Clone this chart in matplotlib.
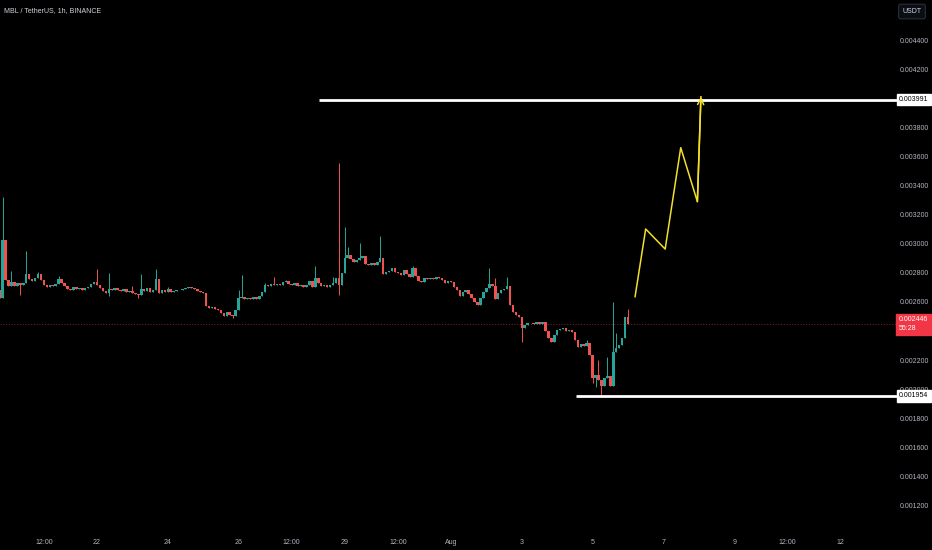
import numpy as np
import matplotlib
matplotlib.use("Agg")
import matplotlib.pyplot as plt
from matplotlib import font_manager
from matplotlib.transforms import blended_transform_factory

# ---------------- data ----------------
title = "MBL / TetherUS, 1h, BINANCE"
quote = "USDT"

# prices in 1e-6 USDT; 2-hour candles, first one at 19 Jul 06:00 (days relative to 1 Aug)
first_candle_day = -12.75
candle_hours = 2
first_open = 2682
closes = [
    2627, 3025, 2750, 2709, 2737, 2709, 2730, 2716, 2730, 2792,
    2757, 2744, 2764, 2792, 2750, 2716, 2702, 2716, 2709, 2723,
    2757, 2730, 2709, 2689, 2682, 2702, 2689, 2695, 2682, 2695,
    2702, 2723, 2737, 2716, 2695, 2675, 2661, 2689, 2682, 2695,
    2682, 2675, 2689, 2668, 2675, 2661, 2655, 2647, 2689, 2675,
    2695, 2668, 2682, 2757, 2661, 2682, 2668, 2689, 2668, 2675,
    2682, 2680, 2689, 2695, 2702, 2698, 2689, 2675, 2668, 2661,
    2572, 2558, 2562, 2551, 2544, 2524, 2503, 2531, 2510, 2503,
    2544, 2627, 2634, 2620, 2627, 2620, 2634, 2620, 2641, 2668,
    2716, 2709, 2723, 2716, 2723, 2716, 2737, 2744, 2723, 2716,
    2730, 2709, 2716, 2702, 2716, 2744, 2702, 2764, 2730, 2709,
    2716, 2702, 2716, 2730, 2764, 2716, 2799, 2902, 2922, 2895,
    2874, 2888, 2902, 2915, 2860, 2854, 2867, 2854, 2874, 2902,
    2792, 2806, 2812, 2833, 2806, 2799, 2785, 2819, 2792, 2771,
    2833, 2778, 2744, 2740, 2764, 2757, 2764, 2757, 2771, 2764,
    2750, 2730, 2744, 2737, 2702, 2682, 2641, 2668, 2682, 2654,
    2627, 2599, 2579, 2627, 2668, 2695, 2723, 2709, 2620, 2661,
    2682, 2689, 2709, 2579, 2531, 2510, 2496, 2421, 2441, 2455,
    2452, 2448, 2462, 2448, 2462, 2400, 2352, 2324, 2372, 2407,
    2414, 2421, 2400, 2407, 2393, 2338, 2290, 2311, 2297, 2318,
    2235, 2077, 2098, 2063, 2022, 2077, 2091, 2022, 2256, 2283,
    2304, 2352, 2496, 2446,
]
wick_highs = {
    1: 3321, 4: 2812, 9: 2950, 13: 2806, 20: 2778, 33: 2826, 37: 2799,
    45: 2709, 48: 2792, 53: 2826, 57: 2702, 81: 2682, 82: 2785, 90: 2730,
    93: 2771, 97: 2750, 107: 2847, 113: 2771, 115: 3555, 117: 3115,
    118: 2977, 122: 3005, 129: 3053, 140: 2847, 166: 2833, 168: 2764,
    172: 2771, 199: 2338, 203: 2201, 206: 2221, 208: 2599, 209: 2386,
    213: 2551,
}
wick_lows = {
    7: 2647, 37: 2641, 47: 2627, 79: 2489, 115: 2647, 177: 2324,
    201: 2043, 202: 2015, 204: 1950,
}

levels = [3991, 1954]
level_start_day = [-3.73, 3.53]
last_price = 2446
countdown = "55:28"

proj_day = [5.20, 5.50, 6.05, 6.49, 6.96, 7.06]
proj_price = [2636, 3101, 2963, 3660, 3289, 4010]

ytick_vals = list(range(1200, 4401, 200))
hidden_ytick_vals = [4000, 2400]   # covered by the price labels
xtick_days = [-11.5, -10, -8, -6, -4.5, -3, -1.5, 0, 2, 4, 6, 8, 9.5, 11]
xtick_labels = ["12:00", "22", "24", "26", "12:00", "29", "12:00", "Aug",
                "3", "5", "7", "9", "12:00", "12"]

# ---------------- style ----------------
names = {f.name for f in font_manager.fontManager.ttflist}
font = "Liberation Sans Narrow" if "Liberation Sans Narrow" in names else "Liberation Sans"
plt.rcParams["font.family"] = [font, "DejaVu Sans"]

UP = "#26a69a"
DOWN = "#ef5350"
TXT = "#b2b5be"
BG = "#000000"
YEL = "#f2e02a"
FS = 5.0

W, H = 932, 550
fig = plt.figure(figsize=(W / 100, H / 100), dpi=100, facecolor=BG)
ax = fig.add_axes([0, 22 / H, 868 / W, 528 / H], facecolor=BG)
for s in ax.spines.values():
    s.set_visible(False)

scale = 1e-6
n = len(closes)
t = first_candle_day + np.arange(n) * candle_hours / 24.0
c = np.array(closes, dtype=float)
o = np.concatenate([[first_open], c[:-1]])
hi = np.maximum(o, c)
lo = np.minimum(o, c)
for k, v in wick_highs.items():
    hi[k] = v
for k, v in wick_lows.items():
    lo[k] = v
up = c >= o
cols = np.where(up, UP, DOWN)

ax.vlines(t, lo * scale, hi * scale, colors=cols, lw=0.7, zorder=3)
body = np.abs(c - o)
body = np.where(body < 3, 3, body)
ax.bar(t, body * scale, bottom=np.minimum(o, c) * scale, width=0.072,
       color=cols, linewidth=0, zorder=4)

ax.set_xlim(-12.74, 11.78)
ax.set_ylim(1046e-6, 4675e-6)

# last price dotted line
x_end_axis = 12.6
ax.plot([-12.74, x_end_axis], [last_price * scale] * 2, color="#6e1f24",
        lw=0.8, ls=(0, (1, 1.5)), zorder=2, clip_on=False)

# horizontal levels
for lv, xs in zip(levels, level_start_day):
    ax.plot([xs, x_end_axis], [lv * scale] * 2, color="white", lw=2.0,
            solid_capstyle="butt", zorder=5, clip_on=False)

# projection path
ax.plot(proj_day, np.array(proj_price) * scale, color=YEL, lw=1.1, zorder=6)
ax.annotate("", xy=(proj_day[-1], proj_price[-1] * scale),
            xytext=(proj_day[-2], proj_price[-2] * scale),
            arrowprops=dict(arrowstyle="->", color=YEL, lw=1.1,
                            mutation_scale=11, shrinkA=0, shrinkB=0),
            zorder=6)

# axes ticks
ax.yaxis.tick_right()
ax.set_yticks([v * scale for v in ytick_vals])
ax.set_yticklabels(["" if v in hidden_ytick_vals else f"{v * scale:.6f}"
                    for v in ytick_vals])
ax.tick_params(axis="y", length=0, pad=23, labelsize=FS, labelcolor=TXT)
ax.set_xticks(xtick_days)
ax.set_xticklabels(xtick_labels)
ax.tick_params(axis="x", length=0, pad=8, labelsize=FS, labelcolor=TXT)

# price labels
tr = blended_transform_factory(fig.transFigure, ax.transData)
for lv in levels:
    ax.text(899 / W, lv * scale, f"{lv * scale:.6f}", transform=tr,
            ha="left", va="center", fontsize=FS, color="black", zorder=10,
            bbox=dict(boxstyle="square,pad=0.35", fc="white", ec="white"),
            clip_on=False)
ax.text(899 / W, last_price * scale, f"{last_price * scale:.6f}\n{countdown}",
        transform=tr, ha="left", va="center", fontsize=FS, color="white",
        linespacing=1.35, zorder=10, clip_on=False,
        bbox=dict(boxstyle="square,pad=0.4", fc="#f23645", ec="#f23645"))

# title and quote box
fig.text(4 / W, 1 - 11 / H, title, ha="left", va="center", fontsize=5.0,
         color="#d1d4dc")
fig.text(912 / W, 1 - 11.5 / H, quote, ha="center", va="center", fontsize=FS,
         color="#d1d4dc",
         bbox=dict(boxstyle="round,pad=0.55,rounding_size=0.3", fc="#0c0e15",
                   ec="#2a2e39", lw=0.8))

fig.savefig("out.png", dpi=100, facecolor=BG)
